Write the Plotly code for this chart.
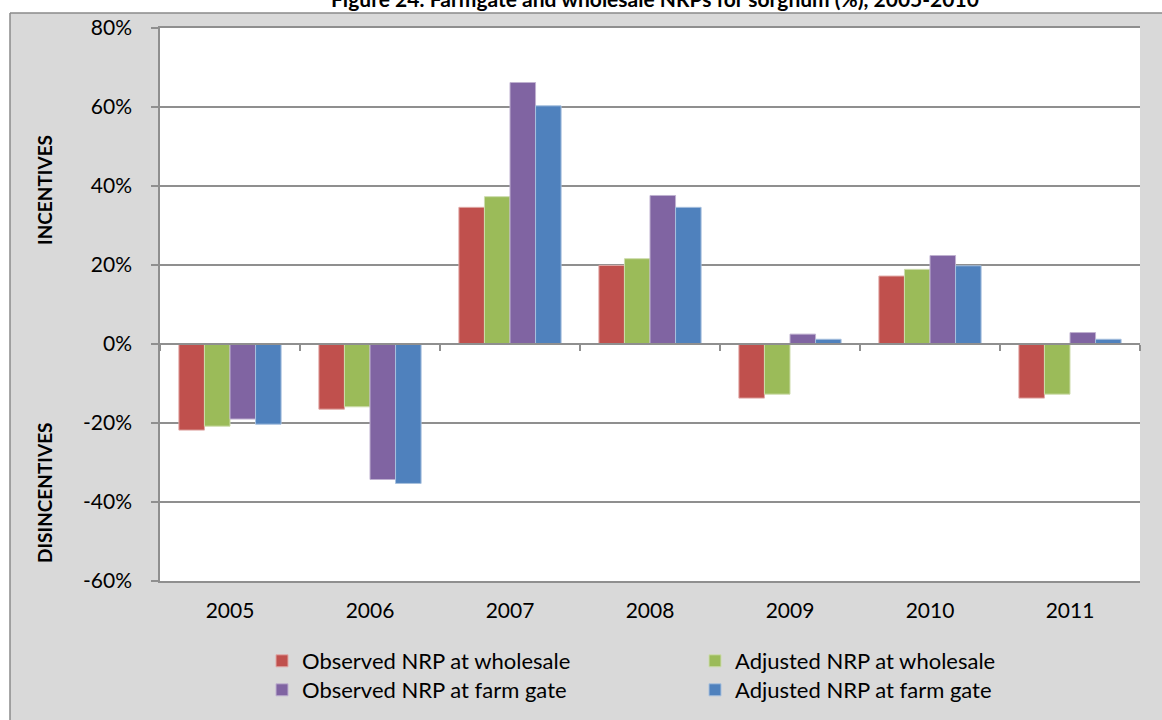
import plotly.graph_objects as go

# Nominal rates of protection for sorghum, in percent
years = ["2005", "2006", "2007", "2008", "2009", "2010", "2011"]
observed_wholesale = [-21.8, -16.5, 34.6, 19.9, -13.7, 17.2, -13.7]
adjusted_wholesale = [-20.8, -15.9, 37.3, 21.6, -12.7, 18.9, -12.7]
observed_farmgate = [-19.0, -34.3, 66.2, 37.6, 2.5, 22.4, 2.9]
adjusted_farmgate = [-20.3, -35.3, 60.3, 34.6, 1.2, 19.8, 1.2]

series_names = [
    "Observed NRP at wholesale",
    "Adjusted NRP at wholesale",
    "Observed NRP at farm gate",
    "Adjusted NRP at farm gate",
]
series_values = [observed_wholesale, adjusted_wholesale, observed_farmgate, adjusted_farmgate]
series_colors = ["#c0504d", "#9bbb59", "#8064a2", "#4f81bd"]
series_edges = ["#e0a9a7", "#cddcac", "#bfb1d0", "#a7c0de"]
# wholesale series go on the first legend row, farm-gate series on the second
series_legend = ["legend", "legend", "legend2", "legend2"]

y_ticks = [-60, -40, -20, 0, 20, 40, 60, 80]
y_tick_text = [f"{v}%" for v in y_ticks]

FONT = "Lato, 'Open Sans', sans-serif"
GRID = "#8f8f8f"
CHART_BG = "#d9d9d9"

# plot-area geometry in pixels, used to place paper-referenced decorations
W, H = 1162, 720
ML, MR, MT, MB = 160, 22, 28, 139
PW, PH = W - ML - MR, H - MT - MB


def px_x(x):
    return (x - ML) / PW


def px_y(y):
    return (H - MB - y) / PH


fig = go.Figure()
for name, vals, col, edge, leg in zip(series_names, series_values, series_colors,
                                      series_edges, series_legend):
    fig.add_trace(go.Bar(
        name=name, x=years, y=vals, legend=leg,
        marker=dict(color=col, line=dict(color=edge, width=1)),
    ))

# category axis running along the 0% line, with tick marks between years
fig.add_trace(go.Scatter(
    x=years, y=[0] * len(years), xaxis="x2", yaxis="y",
    mode="markers", marker=dict(opacity=0), showlegend=False, hoverinfo="skip",
))

y_lo, y_hi = y_ticks[0], y_ticks[-1]

legend_common = dict(
    orientation="h", xanchor="left", yanchor="middle",
    entrywidth=388, traceorder="normal", bgcolor="rgba(0,0,0,0)",
    font=dict(size=22, family=FONT, color="#000000"),
    itemclick=False, itemdoubleclick=False, tracegroupgap=0,
)

fig.update_layout(
    width=W, height=H,
    margin=dict(l=ML, r=MR, t=MT, b=MB, autoexpand=False),
    paper_bgcolor=CHART_BG,
    plot_bgcolor="white",
    barmode="group",
    bargap=0.27,
    bargroupgap=0,
    font=dict(family=FONT, color="#000000", size=20),
    xaxis=dict(
        type="category", categoryarray=years, range=[-0.5, len(years) - 0.5],
        showgrid=False, ticks="", showline=True, linecolor=GRID, linewidth=1.5,
        mirror=True, tickfont=dict(size=21), ticklabelstandoff=10, fixedrange=True,
    ),
    xaxis2=dict(
        type="category", categoryarray=years, range=[-0.5, len(years) - 0.5],
        overlaying="x", anchor="free", position=(0 - y_lo) / (y_hi - y_lo),
        side="bottom", showticklabels=False, showgrid=False,
        showline=True, linecolor=GRID, linewidth=1.5,
        ticks="outside", tickson="boundaries", ticklen=6, tickcolor=GRID, tickwidth=1.5,
    ),
    yaxis=dict(
        range=[y_lo, y_hi], tickmode="array", tickvals=y_ticks, ticktext=y_tick_text,
        showgrid=True, gridcolor=GRID, gridwidth=1.5, zeroline=False,
        showline=True, linecolor=GRID, linewidth=1.5,
        ticks="outside", ticklen=7, tickcolor=GRID, tickwidth=1.5,
        tickfont=dict(size=21), ticklabelstandoff=15,
    ),
    legend=dict(x=px_x(262), y=px_y(661), **legend_common),
    legend2=dict(x=px_x(262), y=px_y(690), **legend_common),
    showlegend=True,
)

# white page around the chart area, and the chart-area border
fig.add_shape(type="rect", xref="paper", yref="paper", layer="below",
              x0=px_x(-5), x1=px_x(10), y0=px_y(H + 5), y1=px_y(-5),
              fillcolor="white", line=dict(width=0))
fig.add_shape(type="rect", xref="paper", yref="paper", layer="below",
              x0=px_x(-5), x1=px_x(W + 5), y0=px_y(13), y1=px_y(-5),
              fillcolor="white", line=dict(width=0))
fig.add_shape(type="line", xref="paper", yref="paper",
              x0=px_x(10), x1=px_x(W + 5), y0=px_y(13), y1=px_y(13),
              line=dict(color="#8a8a8a", width=1.5))
fig.add_shape(type="line", xref="paper", yref="paper",
              x0=px_x(10), x1=px_x(10), y0=px_y(13), y1=px_y(H + 5),
              line=dict(color="#8a8a8a", width=1.5))

annotations = [
    dict(text="<b>Figure 24: Farmgate and wholesale NRPs for sorghum (%), 2005-2010</b>",
         xref="paper", yref="paper", x=px_x(655), y=px_y(-1), xanchor="center", yanchor="middle",
         showarrow=False, font=dict(size=21, family=FONT)),
    dict(text="<b>INCENTIVES</b>", xref="paper", yref="paper",
         x=px_x(44), y=px_y(190), xanchor="center", yanchor="middle", textangle=-90,
         showarrow=False, font=dict(size=19, family=FONT)),
    dict(text="<b>DISINCENTIVES</b>", xref="paper", yref="paper",
         x=px_x(44), y=px_y(493), xanchor="center", yanchor="middle", textangle=-90,
         showarrow=False, font=dict(size=19, family=FONT)),
]
fig.update_layout(annotations=annotations)

fig.write_html("out.html")
